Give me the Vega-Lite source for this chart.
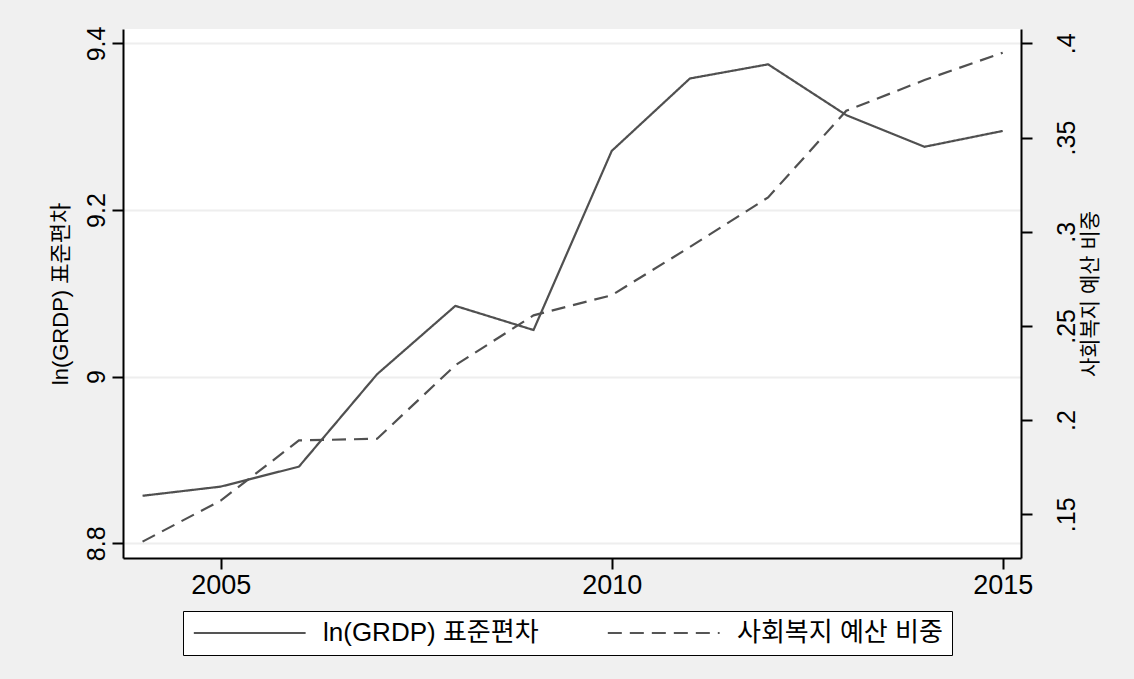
{
  "$schema": "https://vega.github.io/schema/vega-lite/v6.json",
  "width": 898,
  "height": 529,
  "autosize": {"type": "none"},
  "padding": {"left": 123, "top": 29, "right": 113, "bottom": 121},
  "background": "#f0f0f0",
  "config": {
    "view": {"fill": "#ffffff", "stroke": null},
    "font": "Liberation Sans, Noto Sans CJK KR",
    "axis": {
      "labelFont": "Liberation Sans, Noto Sans CJK KR",
      "titleFont": "Liberation Sans, Noto Sans CJK KR",
      "labelColor": "#000000",
      "titleColor": "#000000",
      "titleFontWeight": "normal",
      "domainColor": "#000000",
      "domainWidth": 2,
      "tickColor": "#000000",
      "tickWidth": 2,
      "tickSize": 11,
      "gridColor": "#eeeeee",
      "gridWidth": 2
    },
    "legend": {
      "labelFont": "Liberation Sans, Noto Sans CJK KR",
      "labelColor": "#000000"
    }
  },
  "data": {
    "values": [
      {"year": 2004, "series": "ln(GRDP) 표준편차", "value": 8.857},
      {"year": 2005, "series": "ln(GRDP) 표준편차", "value": 8.868},
      {"year": 2006, "series": "ln(GRDP) 표준편차", "value": 8.892},
      {"year": 2007, "series": "ln(GRDP) 표준편차", "value": 9.003},
      {"year": 2008, "series": "ln(GRDP) 표준편차", "value": 9.085},
      {"year": 2009, "series": "ln(GRDP) 표준편차", "value": 9.056},
      {"year": 2010, "series": "ln(GRDP) 표준편차", "value": 9.271},
      {"year": 2011, "series": "ln(GRDP) 표준편차", "value": 9.358},
      {"year": 2012, "series": "ln(GRDP) 표준편차", "value": 9.375},
      {"year": 2013, "series": "ln(GRDP) 표준편차", "value": 9.314},
      {"year": 2014, "series": "ln(GRDP) 표준편차", "value": 9.276},
      {"year": 2015, "series": "ln(GRDP) 표준편차", "value": 9.295},
      {"year": 2004, "series": "사회복지 예산 비중", "value": 0.1355},
      {"year": 2005, "series": "사회복지 예산 비중", "value": 0.1573},
      {"year": 2006, "series": "사회복지 예산 비중", "value": 0.1892},
      {"year": 2007, "series": "사회복지 예산 비중", "value": 0.1901},
      {"year": 2008, "series": "사회복지 예산 비중", "value": 0.2291},
      {"year": 2009, "series": "사회복지 예산 비중", "value": 0.2556},
      {"year": 2010, "series": "사회복지 예산 비중", "value": 0.2663},
      {"year": 2011, "series": "사회복지 예산 비중", "value": 0.2919},
      {"year": 2012, "series": "사회복지 예산 비중", "value": 0.3182},
      {"year": 2013, "series": "사회복지 예산 비중", "value": 0.3642},
      {"year": 2014, "series": "사회복지 예산 비중", "value": 0.3805},
      {"year": 2015, "series": "사회복지 예산 비중", "value": 0.395}
    ]
  },
  "encoding": {
    "x": {
      "field": "year",
      "type": "quantitative",
      "scale": {"domain": [2003.75, 2015.234], "nice": false, "zero": false},
      "axis": {
        "title": null,
        "values": [2005, 2010, 2015],
        "format": "d",
        "grid": false,
        "labelFontSize": 27,
        "labelPadding": 3
      }
    },
    "strokeDash": {
      "field": "series",
      "type": "nominal",
      "scale": {
        "domain": ["ln(GRDP) 표준편차", "사회복지 예산 비중"],
        "range": [[1, 0], [14, 8]]
      },
      "legend": {
        "title": null,
        "orient": "none",
        "direction": "horizontal",
        "columns": 2,
        "legendX": 60,
        "legendY": 582,
        "fillColor": "#ffffff",
        "strokeColor": "#000000",
        "padding": 9,
        "symbolType": "M-1,0H9",
        "symbolSize": 500,
        "symbolStrokeColor": "#555555",
        "symbolStrokeWidth": 2,
        "symbolFillColor": "transparent",
        "labelOffset": 105,
        "labelFontSize": 26,
        "labelLimit": 400,
        "columnPadding": 64
      }
    }
  },
  "layer": [
    {
      "transform": [{"filter": "datum.series === 'ln(GRDP) 표준편차'"}],
      "mark": {"type": "line", "color": "#505050", "strokeWidth": 2.2},
      "encoding": {
        "y": {
          "field": "value",
          "type": "quantitative",
          "scale": {"domain": [8.7823, 9.4174], "nice": false, "zero": false},
          "axis": {
            "orient": "left",
            "title": "ln(GRDP) 표준편차",
            "titleFontSize": 22,
            "titleAngle": -90,
            "titlePadding": 12,
            "values": [8.8, 9, 9.2, 9.4],
            "labelExpr": "toString(datum.value)",
            "labelAngle": -90,
            "labelAlign": "center",
            "labelBaseline": "bottom",
            "labelFontSize": 25,
            "labelPadding": 3,
            "grid": true
          }
        }
      }
    },
    {
      "transform": [{"filter": "datum.series === '사회복지 예산 비중'"}],
      "mark": {"type": "line", "color": "#505050", "strokeWidth": 2.2},
      "encoding": {
        "y": {
          "field": "value",
          "type": "quantitative",
          "scale": {"domain": [0.1268, 0.4076], "nice": false, "zero": false},
          "axis": {
            "orient": "right",
            "title": "사회복지 예산 비중",
            "titleFontSize": 21,
            "titleAngle": -90,
            "titleBaseline": "top",
            "titlePadding": 0,
            "values": [0.15, 0.2, 0.25, 0.3, 0.35, 0.4],
            "labelExpr": "substring(toString(datum.value), 1)",
            "labelAngle": -90,
            "labelAlign": "center",
            "labelBaseline": "top",
            "labelFontSize": 25,
            "labelPadding": 22,
            "grid": false
          }
        }
      }
    }
  ],
  "resolve": {"scale": {"y": "independent"}}
}
